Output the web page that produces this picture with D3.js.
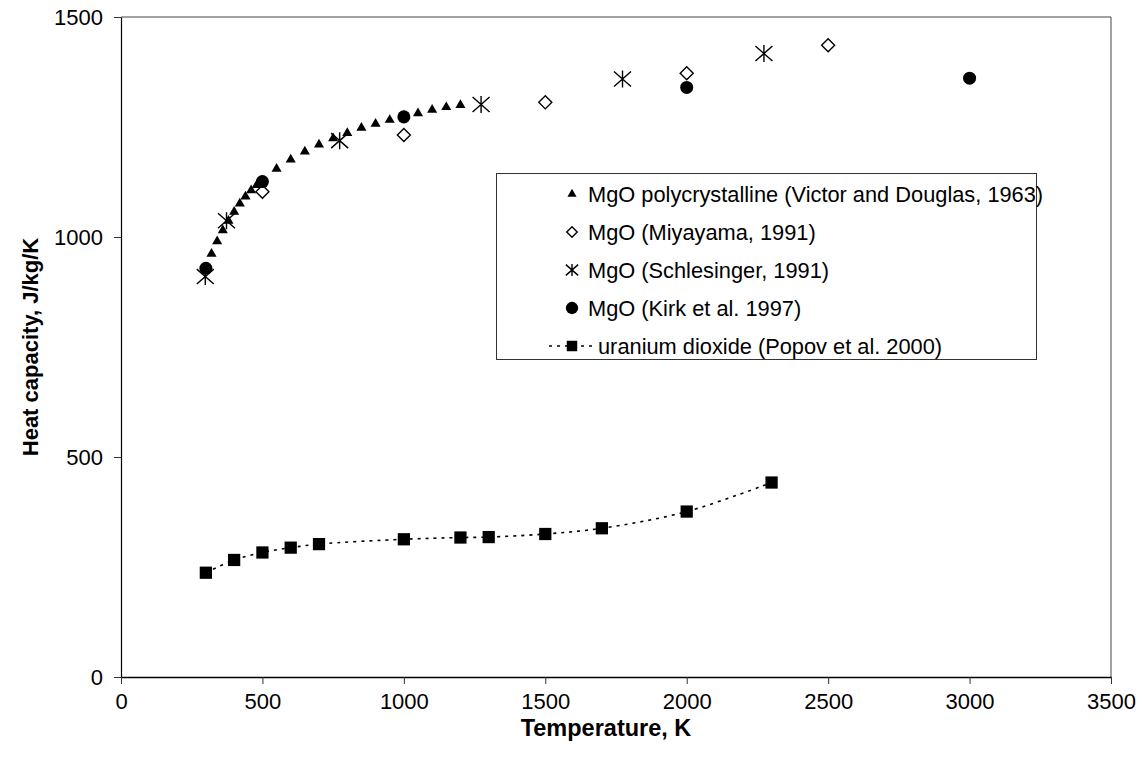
<!DOCTYPE html>
<html>
<head>
<meta charset="utf-8">
<script src="https://cdn.jsdelivr.net/npm/d3@7"></script>
<style>
	body { margin: 0; background: #fff; }
	text { font-family: "Liberation Sans", Arial, sans-serif; fill: #000; }
</style>
</head>
<body>
<svg id="chart_svg"></svg>
<script>
// MgO polycrystalline (Victor and Douglas, 1963)
var victorT = [320, 340, 360, 380, 400, 420, 440, 460, 480, 500, 550, 600, 650, 700, 750, 800, 850, 900, 950, 1000, 1050, 1100, 1150, 1200];
var victorCp = [962, 990, 1015, 1037, 1057, 1076, 1092, 1106, 1118, 1128, 1155, 1176, 1194, 1210, 1224, 1236, 1248, 1257, 1266, 1274, 1281, 1289, 1295, 1300];
// MgO (Miyayama, 1991)
var miyaT = [500, 1000, 1500, 2000, 2500];
var miyaCp = [1103, 1232, 1306, 1372, 1436];
// MgO (Schlesinger, 1991)
var schlT = [298, 373, 773, 1273, 1773, 2273];
var schlCp = [910, 1037, 1219, 1301, 1359, 1417];
// MgO (Kirk et al. 1997)
var kirkT = [300, 500, 1000, 2000, 3000];
var kirkCp = [929, 1126, 1273, 1340, 1361];
// uranium dioxide (Popov et al. 2000)
var uoT = [300, 400, 500, 600, 700, 1000, 1200, 1300, 1500, 1700, 2000, 2300];
var uoCp = [237, 266, 283, 294, 302, 313, 317, 318, 325, 338, 376, 442];

var xTicks = [0, 500, 1000, 1500, 2000, 2500, 3000, 3500];
var yTicks = [0, 500, 1000, 1500];
var legendLabels = [
	"MgO polycrystalline (Victor and Douglas, 1963)",
	"MgO (Miyayama, 1991)",
	"MgO (Schlesinger, 1991)",
	"MgO (Kirk et al. 1997)",
	"uranium dioxide (Popov et al. 2000)"
];

function pairs(xs, ys) {
	return xs.map(function (t, i) { return { t: t, cp: ys[i] }; });
}

var width = 1143, height = 767;
var plot = { left: 121, right: 1111, top: 17, bottom: 677 };

var svg = d3.select("#chart_svg")
	.attr("width", width)
	.attr("height", height);

var x = d3.scaleLinear().domain([0, 3500]).range([plot.left, plot.right]);
var y = d3.scaleLinear().domain([0, 1500]).range([plot.bottom, plot.top]);
var fmt = d3.format("d");

// custom marker shapes (excel style)
var diamondType = {
	draw: function (ctx, size) {
		var r = Math.sqrt(size) / 2;
		ctx.moveTo(0, -r); ctx.lineTo(r, 0); ctx.lineTo(0, r); ctx.lineTo(-r, 0); ctx.closePath();
	}
};
var starType = {
	draw: function (ctx, size) {
		var r = Math.sqrt(size) / 2;
		ctx.moveTo(0, -r); ctx.lineTo(0, r);
		ctx.moveTo(-r, -r * 0.88); ctx.lineTo(r, r * 0.88);
		ctx.moveTo(-r, r * 0.88); ctx.lineTo(r, -r * 0.88);
	}
};

// frame: top and right in grey
svg.append("path")
	.attr("d", "M" + plot.left + "," + plot.top + "H" + plot.right + "V" + plot.bottom)
	.attr("fill", "none")
	.attr("stroke", "#444")
	.attr("stroke-width", 1);

// x axis
var xAxis = svg.append("g")
	.attr("transform", "translate(0," + plot.bottom + ")")
	.call(d3.axisBottom(x).tickValues(xTicks).tickFormat(fmt).tickSize(7).tickPadding(9).tickSizeOuter(0));
xAxis.select(".domain").attr("stroke", "#000").attr("stroke-width", 1.6);
xAxis.selectAll(".tick line").attr("stroke", "#333");
xAxis.selectAll("text").style("font-size", "22px").attr("font-family", null);

// y axis
var yAxis = svg.append("g")
	.attr("transform", "translate(" + plot.left + ",0)")
	.call(d3.axisLeft(y).tickValues(yTicks).tickFormat(fmt).tickSize(7).tickPadding(11).tickSizeOuter(0));
yAxis.select(".domain").attr("stroke", "#000").attr("stroke-width", 1.2);
yAxis.selectAll(".tick line").attr("stroke", "#333");
yAxis.selectAll("text").style("font-size", "22px").attr("font-family", null);

// axis titles
svg.append("text")
	.attr("x", 606)
	.attr("y", 736)
	.attr("text-anchor", "middle")
	.style("font-size", "23.5px")
	.style("font-weight", "bold")
	.text("Temperature, K");

svg.append("text")
	.attr("transform", "translate(38," + 347 + ") rotate(-90)")
	.attr("text-anchor", "middle")
	.style("font-size", "22px")
	.style("font-weight", "bold")
	.text("Heat capacity, J/kg/K");

// uranium dioxide dotted line
var line = d3.line()
	.x(function (d) { return x(d.t); })
	.y(function (d) { return y(d.cp); })
	.curve(d3.curveCatmullRom);

svg.append("path")
	.datum(pairs(uoT, uoCp))
	.attr("d", line)
	.attr("fill", "none")
	.attr("stroke", "#000")
	.attr("stroke-width", 1.6)
	.attr("stroke-dasharray", "3,5");

// markers for each series
var series = [
	{ data: pairs(victorT, victorCp), type: d3.symbolTriangle, size: 44, fill: "#000", stroke: "none" },
	{ data: pairs(miyaT, miyaCp), type: diamondType, size: 170, fill: "#fff", stroke: "#000" },
	{ data: pairs(schlT, schlCp), type: starType, size: 290, fill: "none", stroke: "#000" },
	{ data: pairs(kirkT, kirkCp), type: d3.symbolCircle, size: 133, fill: "#000", stroke: "none" },
	{ data: pairs(uoT, uoCp), type: d3.symbolSquare, size: 150, fill: "#000", stroke: "none" }
];

series.forEach(function (s) {
	svg.append("g").selectAll("path")
		.data(s.data)
		.enter().append("path")
		.attr("transform", function (d) { return "translate(" + x(d.t) + "," + y(d.cp) + ")"; })
		.attr("d", d3.symbol().type(s.type).size(s.size))
		.attr("fill", s.fill)
		.attr("stroke", s.stroke)
		.attr("stroke-width", 1.4);
});

// legend
var legend = svg.append("g");
legend.append("rect")
	.attr("x", 496.5)
	.attr("y", 173.5)
	.attr("width", 540)
	.attr("height", 186)
	.attr("fill", "#fff")
	.attr("stroke", "#333")
	.attr("stroke-width", 1);

var legendSizes = [36, 110, 150, 120, 110];
var rowY = d3.scalePoint().domain(d3.range(5)).range([194, 346]);

legendLabels.forEach(function (label, i) {
	var g = legend.append("g").attr("transform", "translate(0," + rowY(i) + ")");
	if (i == 4) {
		g.append("line")
			.attr("x1", 549).attr("x2", 596)
			.attr("stroke", "#000")
			.attr("stroke-width", 1.6)
			.attr("stroke-dasharray", "3,5");
	}
	g.append("path")
		.attr("transform", "translate(572,0)")
		.attr("d", d3.symbol().type(series[i].type).size(legendSizes[i]))
		.attr("fill", series[i].fill)
		.attr("stroke", series[i].stroke)
		.attr("stroke-width", 1.4);
	g.append("text")
		.attr("x", i == 4 ? 598 : 588)
		.attr("dy", "0.36em")
		.style("font-size", "21.8px")
		.text(label);
});
</script>
</body>
</html>
